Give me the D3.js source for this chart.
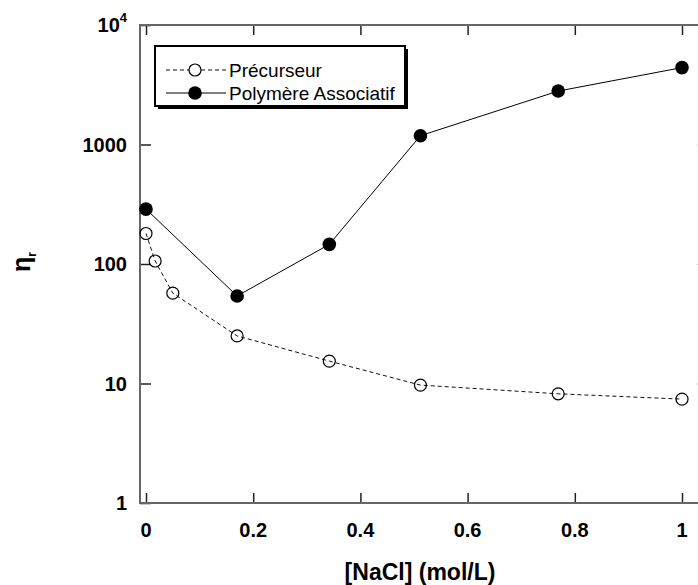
<!DOCTYPE html>
<html>
<head>
<meta charset="utf-8">
<script src="https://cdn.jsdelivr.net/npm/d3@7"></script>
<style>
  html, body { margin: 0; padding: 0; background: #fff; }
  svg { display: block; font-family: "Liberation Sans", Arial, sans-serif; }
</style>
</head>
<body>
<svg id="chart" width="698" height="585"></svg>
<script>
// ---- data ----
const naclPrecurseur = [0, 0.017, 0.05, 0.17, 0.342, 0.512, 0.769, 1];
const etaPrecurseur  = [180, 106, 57, 25, 15.4, 9.7, 8.2, 7.4];
const naclAssociatif = [0, 0.17, 0.342, 0.512, 0.769, 1];
const etaAssociatif  = [288, 54, 146, 1185, 2800, 4400];
const xTicks = [0, 0.2, 0.4, 0.6, 0.8, 1];
const xTickLabels = ["0", "0.2", "0.4", "0.6", "0.8", "1"];
const yTicks = [1, 10, 100, 1000, 10000];
const yTickLabels = ["1", "10", "100", "1000", "10^4"];
const seriesNames = ["Précurseur", "Polymère Associatif"];

const svg = d3.select("#chart");
const x = d3.scaleLinear().domain([-0.0112, 1.0485]).range([140, 708]);
const y = d3.scaleLog().domain([1, 10000]).range([503, 25]);

const spineColor = "#666";
const tickColor = "#222";
const L = x.range()[0], R = x.range()[1], T = y.range()[1], B = y.range()[0];

const fmtX = (d, i) => xTickLabels[i];
svg.append("g").attr("transform", `translate(0,${B})`)
  .call(d3.axisTop(x).tickValues(xTicks).tickSize(10).tickFormat(""))
  .call(g => g.select(".domain").remove())
  .call(g => g.selectAll(".tick line").attr("stroke", tickColor).attr("stroke-width", 1.5));
svg.append("g").attr("transform", `translate(0,${T})`)
  .call(d3.axisBottom(x).tickValues(xTicks).tickSize(10).tickFormat(""))
  .call(g => g.select(".domain").remove())
  .call(g => g.selectAll(".tick line").attr("stroke", tickColor).attr("stroke-width", 1.5));
svg.append("g").attr("transform", `translate(${L},0)`)
  .call(d3.axisRight(y).tickValues(yTicks).tickSize(11).tickFormat(""))
  .call(g => g.select(".domain").remove())
  .call(g => g.selectAll(".tick line").attr("stroke", tickColor).attr("stroke-width", 1.5));
svg.append("g").attr("transform", `translate(${R},0)`)
  .call(d3.axisLeft(y).tickValues(yTicks).tickSize(11).tickFormat(""))
  .call(g => g.select(".domain").remove())
  .call(g => g.selectAll(".tick line").attr("stroke", "#bbb").attr("stroke-width", 1));

// spines
svg.append("rect").attr("x", L).attr("y", T).attr("width", R - L).attr("height", B - T)
  .attr("fill", "none").attr("stroke", spineColor).attr("stroke-width", 2);

// tick labels
svg.append("g").selectAll("text").data(xTicks).join("text")
  .attr("x", d => x(d)).attr("y", B + 34)
  .attr("text-anchor", "middle").attr("font-size", 20).attr("font-weight", "bold")
  .text((d, i) => fmtX(d, i));

const yl = svg.append("g").selectAll("text").data(yTicks).join("text")
  .attr("x", 127).attr("y", d => y(d)).attr("dy", "0.36em")
  .attr("text-anchor", "end").attr("font-size", 20).attr("font-weight", "bold");
yl.each(function(d, i) {
  const lab = yTickLabels[i];
  const t = d3.select(this);
  if (lab.includes("^")) {
    const [b, e] = lab.split("^");
    t.append("tspan").text(b);
    t.append("tspan").attr("font-size", 13).attr("dy", "-0.75em").text(e);
  } else t.text(lab);
});

// axis titles
svg.append("text").attr("x", 420).attr("y", 580).attr("text-anchor", "middle")
  .attr("font-size", 23).attr("font-weight", "bold").text("[NaCl] (mol/L)");
const yt = svg.append("text").attr("transform", "translate(30,262) rotate(-90)")
  .attr("text-anchor", "middle").attr("font-size", 25).attr("font-weight", "bold");
yt.append("tspan").text("η");
yt.append("tspan").attr("font-size", 12).attr("dy", 6).text("r");

// series
const prec = naclPrecurseur.map((v, i) => [v, etaPrecurseur[i]]);
const assoc = naclAssociatif.map((v, i) => [v, etaAssociatif[i]]);
const line = d3.line().x(d => x(d[0])).y(d => y(d[1]));

svg.append("path").datum(prec).attr("d", line).attr("fill", "none")
  .attr("stroke", "#111").attr("stroke-width", 1).attr("stroke-dasharray", "4,3");
svg.append("path").datum(assoc).attr("d", line).attr("fill", "none")
  .attr("stroke", "#000").attr("stroke-width", 1);

svg.append("g").selectAll("circle").data(prec).join("circle")
  .attr("cx", d => x(d[0])).attr("cy", d => y(d[1])).attr("r", 6)
  .attr("fill", "none").attr("stroke", "#000").attr("stroke-width", 1.2);
svg.append("g").selectAll("circle").data(assoc).join("circle")
  .attr("cx", d => x(d[0])).attr("cy", d => y(d[1])).attr("r", 6.8)
  .attr("fill", "#000");

// legend
const lg = svg.append("g");
lg.append("rect").attr("x", 158).attr("y", 49).attr("width", 250).attr("height", 60).attr("fill", "#000");
lg.append("rect").attr("x", 155).attr("y", 46).attr("width", 250).attr("height", 60)
  .attr("fill", "#fff").attr("stroke", "#000").attr("stroke-width", 2);
const rows = [70, 93];
lg.append("line").attr("x1", 166).attr("x2", 226).attr("y1", rows[0]).attr("y2", rows[0])
  .attr("stroke", "#111").attr("stroke-dasharray", "4,3");
lg.append("circle").attr("cx", 195).attr("cy", rows[0]).attr("r", 6)
  .attr("fill", "#fff").attr("stroke", "#000").attr("stroke-width", 1.2);
lg.append("line").attr("x1", 166).attr("x2", 226).attr("y1", rows[1]).attr("y2", rows[1])
  .attr("stroke", "#000");
lg.append("circle").attr("cx", 195).attr("cy", rows[1]).attr("r", 6.8).attr("fill", "#000");
lg.selectAll("text.lab").data(seriesNames).join("text").attr("class", "lab")
  .attr("x", 229).attr("y", (d, i) => rows[i] + 6.5).attr("font-size", 19).text(d => d);
</script>
</body>
</html>
